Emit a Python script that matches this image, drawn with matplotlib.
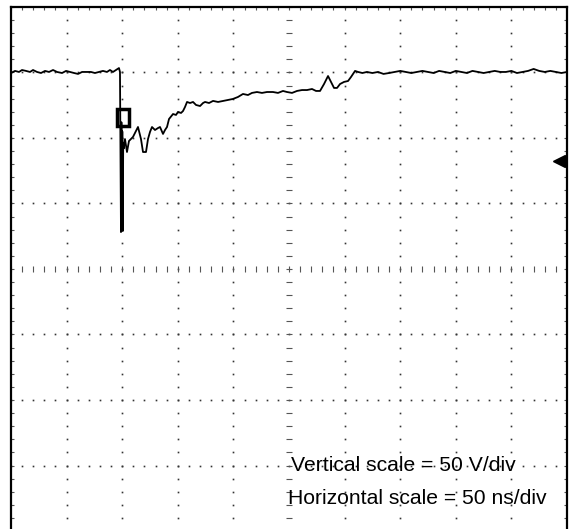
import matplotlib.pyplot as plt
from matplotlib.patches import Rectangle

plt.rcParams['font.family'] = ['Liberation Sans', 'DejaVu Sans']

# screen: 10 div x 50 ns, 8 div x 50 V (0 V = screen centre)
t_div = 50
v_div = 50
n_hdiv = 10
n_vdiv = 8

# trace (time in ns from left edge, level in V from centre)
t_ns = [0.0, 3.6, 7.2, 9.9, 13.5, 17.1, 19.8, 23.4, 27.0, 30.6, 34.2, 37.8, 41.4,
        45.9, 49.5, 53.1, 56.7, 60.3, 63.9, 68.3, 71.9, 75.5, 79.1, 82.7, 86.3,
        89.0, 91.7, 94.4, 97.1, 98.0,
        98.9, 99.3, 99.7, 100.1, 100.5, 100.9, 101.4,
        102.5, 104.3, 106.1, 109.7, 112.4, 114.2, 116.9, 118.7, 121.4, 123.2,
        125.0, 126.8, 129.5, 132.2, 134.0, 136.7, 138.5, 140.3, 142.1, 145.7,
        148.4, 150.2, 152.9, 154.7, 156.5, 158.3, 161.0, 163.7, 166.4, 170.0,
        172.7, 174.5, 178.1, 181.7, 186.2, 190.7, 195.1, 199.6, 204.1, 208.6,
        213.1, 216.7, 221.2, 225.7, 230.2, 235.6, 240.1, 244.6, 248.2, 252.7,
        257.2, 261.7, 266.2, 270.7, 274.3, 277.9, 281.5, 285.1, 287.8, 290.5,
        293.2, 295.9, 299.5, 303.1, 305.8, 309.4, 312.1,
        316, 320, 325, 330, 335, 340, 345, 350, 355, 360, 365, 370, 375, 380,
        385, 390, 395, 400, 405, 410, 415, 420, 425, 430, 435, 440, 445, 450,
        455, 460, 465, 470, 475, 480, 485, 490, 495, 500]
v_V = [149.6, 151.2, 150.4, 151.9, 151.2, 150.4, 151.9, 150.4, 149.6, 151.2,
       150.4, 151.9, 150.4, 149.6, 151.2, 150.4, 149.6, 148.9, 150.4, 150.4,
       150.4, 149.6, 150.4, 151.2, 150.4, 151.9, 150.4, 151.9, 153.4, 150.4,
       28.2, 112.0, 30.5, 105.0, 29.0, 96.0, 92.0,
       99.2, 89.3, 97.7, 100.8, 105.3, 108.4, 99.2, 89.3, 89.3, 99.2,
       104.6, 108.4, 106.1, 107.6, 108.4, 103.1, 106.1, 108.4, 114.5, 118.3,
       117.6, 119.9, 119.1, 120.6, 123.7, 127.5, 126.7, 127.5, 125.2, 124.4,
       126.7, 127.5, 126.7, 128.3, 127.5, 128.3, 129.0, 129.8, 131.3, 133.6,
       132.8, 134.4, 135.1, 134.4, 135.1, 135.1, 134.4, 135.9, 135.1, 134.4,
       135.9, 136.6, 136.6, 137.4, 135.9, 135.9, 141.2, 147.3, 142.8, 138.2,
       138.2, 141.2, 142.8, 143.5, 146.6, 151.2, 150.4,
       149.6, 150.4, 149.6, 150.4, 148.9, 149.6, 150.4, 151.2, 150.4, 149.6,
       150.4, 151.2, 150.4, 149.6, 151.2, 150.4, 149.6, 151.2, 150.4, 149.6,
       151.2, 150.4, 149.6, 150.4, 151.2, 150.4, 150.4, 151.2, 149.6,
       150.4, 151.2, 152.7, 151.2, 150.4, 151.2, 150.4, 149.6, 150.4]

ground_V = 82.4
trig_box = (95.3, 109.2, 10.8, 12.9)  # t, V, width, height
labels = ['Vertical scale = 50 V/div', 'Horizontal scale = 50 ns/div']
label_t = [251.4, 249.1]
label_V = [-154.2, -179.4]

fig = plt.figure(figsize=(5.69, 5.29), dpi=100)
ax = fig.add_axes([11/569, -0.0038, 556/569, 0.9906])
tmax = n_hdiv*t_div
vmax = n_vdiv*v_div/2
ax.set_xlim(0, tmax)
ax.set_ylim(-vmax, vmax)
ax.set_xticks([])
ax.set_yticks([])
for s in ['left', 'top', 'right']:
    ax.spines[s].set_linewidth(1.6)
ax.spines['bottom'].set_visible(False)

dot = dict(ls='none', marker='s', ms=1.2, mew=0, color='#333333', zorder=1)
sub_t = [i*t_div/5 for i in range(n_hdiv*5+1)]
sub_v = [-vmax + i*v_div/5 for i in range(n_vdiv*5+1)]
# dotted graticule
for k in range(1, n_vdiv):
    v = -vmax + k*v_div
    if v == 0:
        continue
    ax.plot(sub_t, [v]*len(sub_t), **dot)
for k in range(1, n_hdiv):
    t = k*t_div
    if t == tmax/2:
        continue
    ax.plot([t]*len(sub_v), sub_v, **dot)

# centre axes with minor ticks
ax.plot(sub_t, [0]*len(sub_t), ls='none', marker='|', ms=4, mew=0.8, color='#555555', zorder=1)
ax.plot([tmax/2]*len(sub_v), sub_v, ls='none', marker='_', ms=4, mew=0.8, color='#555555', zorder=1)
# edge ticks
ax.plot(sub_t, [vmax]*len(sub_t), ls='none', marker='|', ms=5, mew=0.8, color='#555555')
ax.plot([0]*len(sub_v), sub_v, ls='none', marker='_', ms=5, mew=0.8, color='#555555')
ax.plot([tmax]*len(sub_v), sub_v, ls='none', marker='_', ms=5, mew=0.8, color='#555555')

ax.add_patch(Rectangle(trig_box[:2], trig_box[2], trig_box[3], facecolor='white',
                       edgecolor='black', lw=2.5, zorder=2))
ax.plot(t_ns, v_V, color='black', lw=1.3, zorder=3)

# ground level marker
ax.plot([tmax-8, tmax], [ground_V, ground_V], color='black', lw=2.2, zorder=3)
ax.plot(tmax-7, ground_V, marker='<', ms=8, color='black', zorder=3)

for lab, x, y in zip(labels, label_t, label_V):
    ax.text(x, y, lab, fontsize=15.2, va='baseline', ha='left', color='black')

fig.savefig('out.png', dpi=100)
